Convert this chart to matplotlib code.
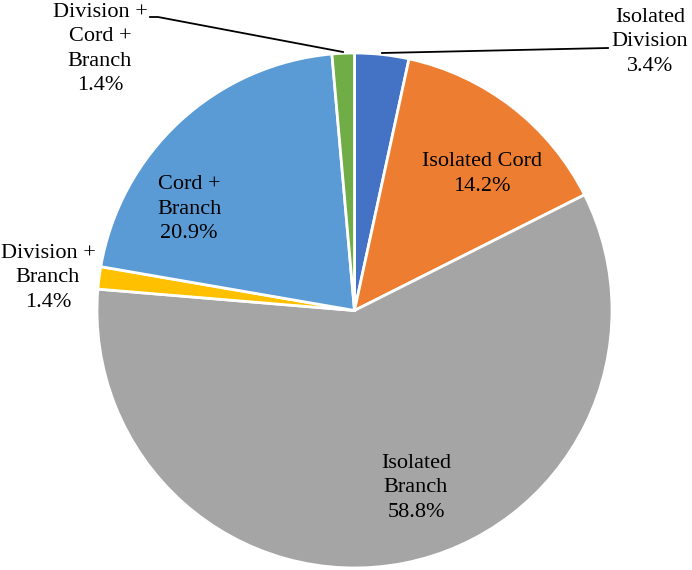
import numpy as np
import matplotlib
matplotlib.use('Agg')
from matplotlib import pyplot as plt

labels = ['Isolated\nDivision', 'Isolated Cord', 'Isolated\nBranch', 'Division +\nBranch',
          'Cord +\nBranch', 'Division +\nCord +\nBranch']
values = [3.4, 14.2, 58.8, 1.4, 20.9, 1.4]
colors = ['#4472C4', '#ED7D31', '#A5A5A5', '#FFC000', '#5B9BD5', '#70AD47']

W, H = 692, 570
cx, cy, R = 354.5, 310.5, 257.5

# label centres in pixels (from the top-left corner)
label_px = [(650, 42), (482, 174), (416, 488), (48, 278), (189, 209), (100, 49)]

def to_data(px, py):
    return (px - cx) / R, (cy - py) / R

plt.rcParams['font.family'] = ['Liberation Serif', 'DejaVu Serif']

fig = plt.figure(figsize=(W / 100, H / 100), dpi=100)
ax = fig.add_axes([0, 0, 1, 1])
ax.pie(values, colors=colors, startangle=90, counterclock=False, radius=1,
       wedgeprops=dict(edgecolor='white', linewidth=2))
ax.set_xlim(-cx / R, (W - cx) / R)
ax.set_ylim(-(H - cy) / R, cy / R)
ax.set_aspect('auto')
ax.axis('off')

for lab, v, (px, py) in zip(labels, values, label_px):
    x, y = to_data(px, py)
    ax.text(x, y, f'{lab}\n{v}%', ha='center', va='center', fontsize=16,
            linespacing=1.4, color='black')

# leader lines
for pts in ([(150, 17), (158, 17), (343, 52)], [(382, 53), (608, 48)]):
    xs, ys = zip(*[to_data(*p) for p in pts])
    ax.plot(xs, ys, color='black', lw=1.3)

fig.savefig('out.png', dpi=100)
